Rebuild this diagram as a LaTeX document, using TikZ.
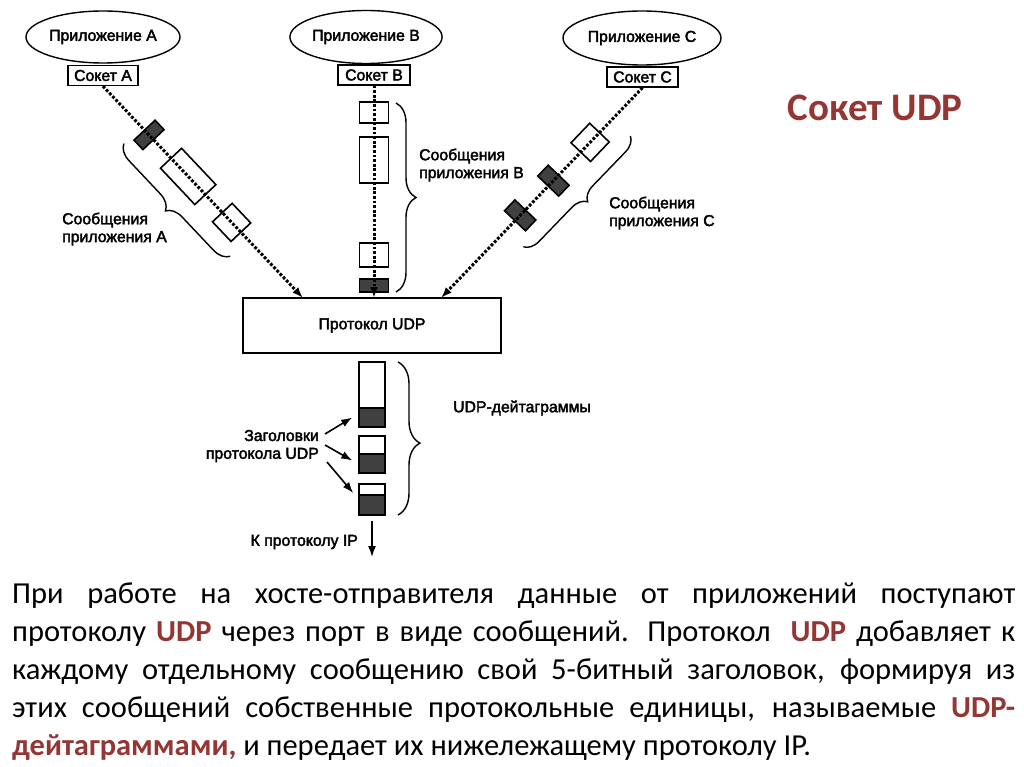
\documentclass[tikz,border=0pt]{standalone}
\usepackage{fontspec}
\setmainfont{Carlito}
\newfontfamily\lab[FakeBold=2.5]{Liberation Sans}
\usetikzlibrary{shapes.geometric,arrows.meta,decorations.pathreplacing}
\definecolor{udpred}{HTML}{943634}
\newcommand{\udpr}[1]{{\color{udpred}\bfseries #1}}
\begin{document}
\begin{tikzpicture}[x=1pt,y=-1pt,
  labfont/.style={font=\lab\fontsize{15.8}{17.8}\selectfont},
  app/.style={ellipse, draw, line width=1.4pt, inner sep=0pt, labfont},
  sock/.style={rectangle, draw, line width=1.4pt, fill=white, minimum height=20pt, inner sep=0pt, labfont},
  flow/.style={line width=3pt, dash pattern=on 2.8pt off 1.8pt, -{Latex[length=11pt,width=8pt]}},
  msg/.style={draw, line width=1.6pt, fill=white, inner sep=0pt},
  hdr/.style={msg, fill=black!75},
  brc/.style={decorate, decoration={brace, amplitude=#1}, line width=1.4pt},
  lbl/.style={labfont, inner sep=0pt, align=left},
  arr/.style={line width=1.6pt, -{Latex[length=11pt,width=8pt]}}
]
\useasboundingbox (0,0) rectangle (1024,767);
\fill[white] (0,0) rectangle (1024,767);

% applications and sockets
\node[app, minimum width=154pt, minimum height=52pt] (appA) at (103,37) {Приложение A};
\node[app, minimum width=146pt, minimum height=53pt] (appB) at (366,37) {Приложение B};
\node[app, minimum width=158pt, minimum height=54pt] (appC) at (642,38) {Приложение C};
\node[sock, minimum width=70pt] (sockA) at (103,75.5) {Сокет A};
\node[sock, minimum width=72pt] (sockB) at (374,75) {Сокет B};
\node[sock, minimum width=71pt] (sockC) at (642.5,77) {Сокет C};

% UDP protocol box
\node[draw, line width=1.6pt, minimum width=258pt, minimum height=55pt, labfont] (udp) at (372,325.5) {Протокол UDP};
\coordinate (inA) at (303,298);
\coordinate (inB) at (374,298);
\coordinate (inC) at (441,298);

% messages A
\path (sockA.south) -- (inA)
  node[hdr, sloped, pos=0.23, minimum width=13pt, minimum height=29pt] (a1) {}
  node[msg, sloped, pos=0.426, minimum width=50pt, minimum height=29pt] (a2) {}
  node[msg, sloped, pos=0.643, minimum width=27pt, minimum height=27pt] (a3) {};
% messages C
\path (sockC.south) -- (inC)
  node[msg, sloped, pos=0.26, minimum width=27pt, minimum height=27pt] (c1) {}
  node[hdr, sloped, pos=0.442, minimum width=15pt, minimum height=29pt] (c2) {}
  node[hdr, sloped, pos=0.607, minimum width=15pt, minimum height=29pt] (c3) {};
% messages B
\node[msg, minimum width=29pt, minimum height=21pt] (b1) at (374,112.5) {};
\node[msg, minimum width=29pt, minimum height=46pt] (b2) at (374,160) {};
\node[msg, minimum width=29pt, minimum height=24pt] (b3) at (374,255) {};
\node[hdr, minimum width=29pt, minimum height=13pt] (b4) at (374,285.5) {};

% flows
\draw[flow] (sockA.south) -- (inA);
\draw[flow] (sockB.south) -- (inB);
\draw[flow] (sockC.south) -- (inC);

% braces
\draw[brc=16pt] (230.2,256.3) -- (123.9,143.6);
\draw[brc=20pt] (396,103) -- (396,292);
\draw[brc=15pt] (630.4,136) -- (523.4,246.8);
\draw[decorate, decoration={brace, amplitude=22pt, aspect=0.53}, line width=1.4pt] (398,362) -- (398,515);

% labels
\node[lbl, anchor=west] (labA) at (62,229) {Сообщения\\приложения A};
\node[lbl, anchor=west] (labB) at (419,165) {Сообщения\\приложения B};
\node[lbl, anchor=west] (labC) at (609,213) {Сообщения\\приложения C};
\node[lbl] (dg) at (522,408) {UDP-дейтаграммы};

% datagrams
\node[msg, minimum width=26pt, minimum height=65pt] (d1) at (372,394.5) {};
\node[hdr, minimum width=26pt, minimum height=19pt] (h1) at (372,417.5) {};
\node[msg, minimum width=26pt, minimum height=37pt] (d2) at (372,454.5) {};
\node[hdr, minimum width=26pt, minimum height=19pt] (h2) at (372,463.5) {};
\node[msg, minimum width=26pt, minimum height=31pt] (d3) at (372,499.5) {};
\node[hdr, minimum width=26pt, minimum height=20pt] (h3) at (372,505) {};

\node[lbl, align=right, anchor=east] (zag) at (319,446) {Заголовки\\протокола UDP};
\draw[arr] ([xshift=6pt,yshift=12pt]zag.east) -- ([xshift=-6pt]h1.west);
\draw[arr] ([xshift=6pt,yshift=1pt]zag.east) -- ([xshift=-6pt,yshift=3pt]h2.west);
\draw[arr] ([xshift=8pt,yshift=-16pt]zag.east) -- ([xshift=-5pt,yshift=12pt]h3.west);

\node[lbl, anchor=east] (ipl) at (358,542) {К протоколу IP};
\coordinate (ipend) at (372,557);
\draw[arr] ([yshift=-5pt]d3.south) -- (ipend);

% title
\node[font=\bfseries\fontsize{39}{44}\selectfont, text=udpred] (title) at (875,108) {Сокет UDP};

% paragraph
\node[anchor=north west, inner sep=0pt, text width=1003pt, align=justify,
      font=\fontsize{30.5}{38}\selectfont] (para) at (12,583)
{\hyphenpenalty=10000 \exhyphenpenalty=10000
При работе на хосте-отправителя данные от приложений поступают\linebreak
протоколу \udpr{UDP} через порт в виде сообщений. Протокол \ \udpr{UDP} добавляет к\linebreak
каждому отдельному сообщению свой 5-битный заголовок, формируя из\linebreak
этих сообщений собственные протокольные единицы, называемые \udpr{UDP-}\linebreak
\udpr{дейтаграммами,} и передает их нижележащему протоколу IP.};
\end{tikzpicture}
\end{document}
